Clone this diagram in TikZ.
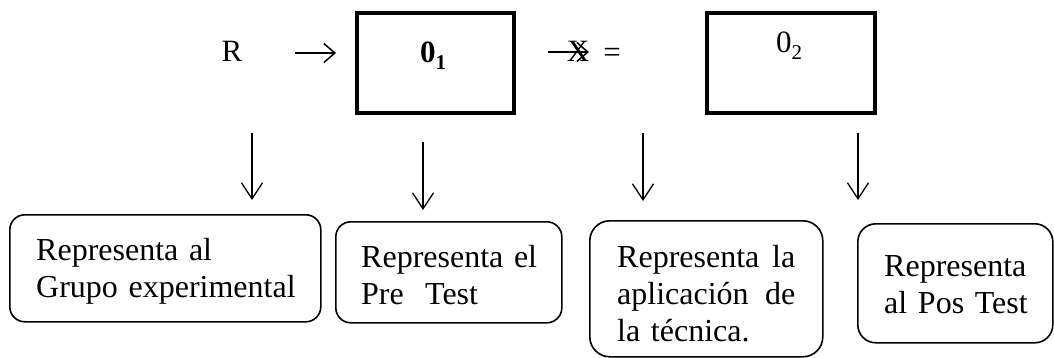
\documentclass[tikz,border=0pt]{standalone}
\usepackage{fontspec}
\setmainfont{Liberation Serif}
\usetikzlibrary{arrows.meta}
\tikzset{
  obox/.style={draw, line width=4pt, anchor=north west, inner sep=0pt},
  tbox/.style={draw, line width=1.6pt, anchor=north west, inner sep=0pt},
  btxt/.style={anchor=base west, inner sep=0pt, align=left, font=\fontsize{32}{37}\selectfont},
  sym/.style={anchor=base, inner sep=0pt, font=\fontsize{31}{37}\selectfont},
  darr/.style={line width=1.3pt, -{Straight Barb[length=16pt,width=21pt,line width=1.3pt]}},
  harr/.style={line width=1.5pt, -{Straight Barb[length=11pt,width=19pt,line width=1.5pt]}}
}
\begin{document}
\begin{tikzpicture}[x=1pt,y=-1pt]
\useasboundingbox (0,0) rectangle (1054,358);
% top row
\node[sym] (R) at (232,62) {R};
\node[obox, minimum width=157pt, minimum height=100pt] (o1) at (355,11) {};
\node[sym] (o1t) at (433,63) {\textbf{0}\raisebox{-7pt}{\fontsize{21}{21}\selectfont\textbf{1}}};
\node[sym] (X) at (578,62) {X};
\node[sym] (eq) at (612,63) {=};
\node[obox, minimum width=168pt, minimum height=100pt] (o2) at (705,11) {};
\node[sym] (o2t) at (789,53) {0\raisebox{-7pt}{\fontsize{21}{21}\selectfont 2}};
\coordinate (h1s) at (295,53);
\coordinate (h1e) at (336,53);
\coordinate (h2s) at (548,52);
\coordinate (h2e) at (589,52);
\draw[harr] (h1s) -- (h1e);
\draw[harr] (h2s) -- (h2e);
% bottom boxes
\node[tbox, rounded corners=15pt, minimum width=311pt, minimum height=107pt] (b1) at (9,214) {};
\node[tbox, rounded corners=15pt, minimum width=226pt, minimum height=101pt] (b2) at (335,221) {};
\node[tbox, rounded corners=20pt, minimum width=233pt, minimum height=136pt] (b3) at (589,220) {};
\node[tbox, rounded corners=18pt, minimum width=195pt, minimum height=119pt] (b4) at (857,223) {};
\node[btxt, text width=280pt] (t1) at (36,260) {Representa al\\Grupo experimental};
\node[btxt, text width=190pt] (t2) at (361,267) {Representa el\\Pre\ \ Test};
\node[btxt, text width=178pt] (t3) at (617,267) {Representa\hfill la\\aplicación\hfill de\\la técnica.};
\node[btxt, text width=160pt] (t4) at (884,276) {Representa\\al Pos Test};
% down arrows
\coordinate (a1s) at (252,133); \coordinate (a1e) at (252,200);
\coordinate (a2s) at (423,142); \coordinate (a2e) at (423,210);
\coordinate (a3s) at (643,133); \coordinate (a3e) at (643,201);
\coordinate (a4s) at (858,133); \coordinate (a4e) at (858,200);
\draw[darr] (a1s) -- (a1e);
\draw[darr] (a2s) -- (a2e);
\draw[darr] (a3s) -- (a3e);
\draw[darr] (a4s) -- (a4e);
\end{tikzpicture}
\end{document}
